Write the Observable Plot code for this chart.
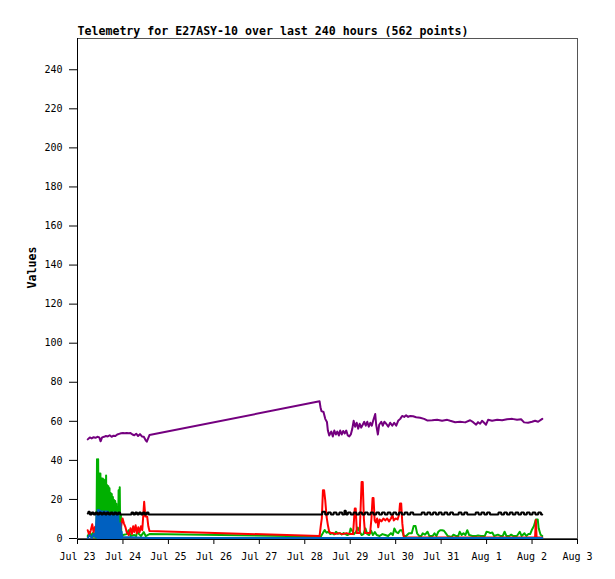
<!DOCTYPE html>
<html><head><meta charset="utf-8">
<script src="https://cdn.jsdelivr.net/npm/d3@7"></script>
<script src="https://cdn.jsdelivr.net/npm/@observablehq/plot@0.6"></script>
<style>body{margin:0;background:#fff} svg{display:block}</style>
</head><body><div id="chart"></div>
<script>
const title = "Telemetry for E27ASY-10 over last 240 hours (562 points)";
const yLabel = "Values";
const xTickLabels = ["Jul 23","Jul 24","Jul 25","Jul 26","Jul 27","Jul 28","Jul 29","Jul 30","Jul 31","Aug 1","Aug 2","Aug 3"];
const yTicks = [0,20,40,60,80,100,120,140,160,180,200,220,240];

// [hours since Jul 23 00:00, value]
const purple = [
[5.4,50.5],[6.5,51.5],[7.5,51],[8.5,51.6],[9.5,51.3],[10.5,51.8],[11.5,51.5],[12.2,49.5],[13,51.5],[14,51.8],[15,52.2],[16,52],[17,52.6],[18,51.8],[19,52.4],[20,52.2],[21,53],[22,53.3],[23,53.6],[24,53.7],[25,53.6],[26,53.8],[27,53.6],[28,53.7],[29,53],[30,52.6],[31,53.4],[32,52.2],[33,53.2],[34,52],[35,51.8],[36,50],[36.6,49.3],[38,52.7],
[127.8,70],[128.3,67],[128.8,65],[129.9,64.5],[130.8,61],[131.7,59.4],[132.2,55],[132.9,52.5],[134,54.5],[134.8,52],[135.6,55],[136.4,53],[137.2,54.5],[138,52.5],[138.7,55],[139.5,53],[140.3,54.8],[141.1,53.5],[141.9,55],[142.7,52.5],[143.5,52],[144.3,53],[145.1,56],[145.8,60],[146.6,57],[147.4,59],[148.2,56],[149,58.5],[149.8,56.5],[150.6,58],[151.4,59.5],[152.2,57.5],[153,59.5],[153.8,57],[154.6,59],[155.4,57.5],[156.1,60],[157.2,63.5],[157.7,58],[158.6,53],[159.3,58],[160.4,59.5],[161.2,57.5],[162,59.5],[163,58.5],[164.1,57],[165.1,59],[166.2,57.5],[167.2,59],[168.3,57.5],[169.3,60],[170.4,61],[171.4,62.5],[172.5,62],[173.5,62.8],[174.6,62],[175.7,62.5],[177.2,62.3],[178.8,61.8],[180.9,61.6],[183,61],[184.6,60.2],[187.3,60.3],[189.9,60.5],[192.5,60],[195.2,60.5],[196.8,60],[199.4,59.3],[202,59.5],[204.7,59.2],[207.3,60.3],[208.9,59.3],[210.5,58],[211.5,59.3],[212.6,58.5],[213.6,60],[214.7,59],[215.7,58],[216.8,60.5],[218.9,60],[221.6,60.5],[224.2,60.3],[226.8,60.8],[229.5,61],[232.1,60.5],[234.2,60.8],[235.8,59.2],[237.9,59],[240,59.5],[241.6,60],[243.2,59.5],[245.4,61]
];

const black = [
[5.4,12.5],[6,13.5],[7,12],[8,13],[9,12],[10,13],[11,12],[12,13],[13,12],[14,13],[15,12],[16,13],[17,12],[18,13],[19,12],[20,13],[21,12],[22,13],[23,12],[24,12],[25,12],[26,12],[27,12],[28,12],[29,13],[30,12],[31,13],[32,12],[33,13],[34,12],[35,13],[36,12],[37,13],[38,12],
[128.5,12],[130,13.4],[131.5,12],[133,13],[134.5,12],[136,13],[137.5,12],[139,13],[140.5,12],[141.4,14],[142,12],[143.5,13],[145,12],[146.5,13],[148,12],[149.5,13],[151,12],[152.5,13],[154,12],[155.5,13],[157,12],[158.5,13],[160,12],[161.5,13],[163,12],[164.5,13],[166,12],[167.5,13],[169,12],[170.5,13],[172,12],[173.5,13],[175,12],[176.5,13],[178,12],[179.5,12],[181,12],[182.5,13],[184,12],[185.5,13],[187,12],[188.5,13],[190,12],[191.5,13],[193,12],[194.5,13],[196,12],[197.5,13],[199,12],[200.5,12],[202,13],[203.5,12],[205,13],[206.5,12],[208,12],[209.5,12],[211,13],[212.5,12],[214,13],[215.5,12],[217,13],[218.5,12],[220,12],[221.5,12],[223,13],[224.5,12],[226,13],[227.5,12],[229,13],[230.5,12],[232,13],[233.5,12],[235,13],[236.5,12],[238,13],[239.5,12],[241,13],[242.5,12],[244,13],[245.4,12]
];

const green = [
[5.4,1],[6.5,3],[7.3,0.5],[8,2.5],[8.7,0.5],[9.5,3],[10,0],
[10.3,40.3],[10.6,0],[10.9,40.3],[11.2,0],[11.5,33],[11.8,0],[12.1,33],[12.4,0],[12.7,30.5],[13,0],[13.3,30.5],[13.6,0],[13.9,30],[14.2,0],[14.5,29.5],[14.8,0],[15.1,32],[15.4,0],[15.7,27],[16,0],[16.3,26.5],[16.6,0],[16.9,25.5],[17.2,0],[17.5,23],[17.8,0],[18.1,22.5],[18.4,0],[18.7,21],[19,0],[19.3,19.5],[19.6,0],[19.9,19],[20.2,0],[20.5,17.5],[20.8,0],[21.1,16],[21.4,0],[21.7,24.5],[22,0],[22.3,26],[22.6,0],[22.9,12],[23.2,0],
[24,1.5],[26,2],[27,4],[28,1],[30,1.5],[31,1],[31.5,3.5],[32.5,2],[33.5,1],[35,3],[36,1],[38,2],
[128.5,0.8],[129.5,2.4],[130.5,4.1],[131.5,2.7],[132.5,3.2],[133.5,2],[134.5,2.5],[135.5,1.8],[136.5,3.2],[137.5,2.2],[138.5,2.5],[139.5,1.8],[140.5,2.5],[141.5,2],[142.5,1.5],[143.5,2],[144.2,4.9],[145,3.7],[146,2],[147,3],[148,5.3],[149,3.2],[150,1.5],[151,2],[152,4.9],[153,2],[154,1.5],[155,3.7],[156,1.5],[157,3],[158,1.5],[159.5,1],[161,2],[162.5,1.5],[164,1],[165.5,2.5],[166.5,1.5],[167.3,4.9],[168.3,3],[169.3,2.5],[170.3,4],[171.3,4],[172.3,1],[173.5,1],[175,2.4],[176.5,2.4],[177.5,6.1],[178.5,6.1],[179.3,2.4],[180.5,1],[181.5,1],[182.3,2.4],[183.5,1.7],[184.8,3.2],[185.8,1],[187.5,1],[188.5,2.4],[189.5,1],[190.5,3.2],[191.5,4],[192.5,4],[193.5,3.7],[194.5,2.4],[195.5,1],[197.5,0.5],[198.5,1.7],[200,1],[201,1],[201.8,3.2],[202.8,1.5],[203.8,2.4],[204.8,1.5],[205.8,4],[206.8,1.5],[208.5,1],[210.5,1],[211.5,1.3],[213,1],[215,1],[216,3.2],[217,3],[218,2.5],[219,2.8],[220,1],[222,1.7],[223.5,1],[224.5,1],[225.5,3.2],[226.5,1],[228,1],[229,1.7],[230,1],[232,1],[233.5,3.2],[234.5,1],[236,2.4],[237,1],[238,2],[239,2],[240,4.4],[241,6.1],[242,9.5],[243,9.5],[243.5,5],[244.5,1.7],[245.4,1]
];

const red = [
[5.4,4],[6.2,1.5],[7,4],[7.8,7],[8.5,3],[9.3,5.8],[10,2],[11,4],[12,1],[13,3],[14,2],[16,4],[18,2],[20,3],[22,1],
[23,6],[23.8,10],[24.5,7.5],[25.3,5.6],[26,3],[27,1.5],[28,5],[28.7,2],[29.4,6],[30,3],[30.7,6.5],[31.4,2.5],[32.1,5.5],[32.8,3],[33.5,6],[34.2,4],[35.2,18.5],[35.8,11],[36.8,11],[37.4,6],[38,3.6],
[127.8,1],[128.5,6.6],[129,10],[129.6,24.5],[130.2,24.5],[130.8,19.4],[131.5,10.9],[132.2,6.6],[132.9,3.2],[134,2.5],[135,2.5],[136,2],[138,2.5],[140,2],[142,2.5],[144,2],[145.5,2],[146.4,15.1],[146.9,15.1],[147.5,2.5],[149,2.5],[150,28.7],[150.6,28.7],[151.2,10],[151.8,2.5],[153,2.5],[154.5,2.5],[155.2,10],[155.8,20.5],[156.3,20.5],[156.9,9],[157.5,8],[158.2,10],[158.8,5.5],[159.5,9.5],[160.5,8.5],[161.5,10],[162.5,9],[163.5,10],[164.5,8.5],[165.5,10],[166.3,11.7],[167,9],[168,10],[169,9.5],[169.8,12],[170.3,17.7],[170.9,17.7],[171.5,7.6],[172.2,1],[172.8,0.3],
[241.6,0.3],[242,9.2],[242.4,0.3],[245.4,0.3]
];

const blue = [
[5.4,0],[6.5,1.5],[7.5,0],[8.5,2],[9.5,0.5],
[10.1,12.5],[10.4,0],[10.7,14.3],[11,0],[11.3,14.3],[11.6,0],[11.9,14],[12.2,0],[12.5,13.6],[12.8,0],[13.1,13.6],[13.4,0],[13.7,13.6],[14,0],[14.3,13.5],[14.6,0],[14.9,13.6],[15.2,0],[15.5,13.6],[15.8,0],[16.1,13.5],[16.4,0],[16.7,12.8],[17,0],[17.3,12.8],[17.6,0],[17.9,12.5],[18.2,0],[18.5,9],[18.8,0],[19.1,13],[19.4,0],[19.7,8],[20,0],[20.3,13],[20.6,0],[20.9,12.8],[21.2,0],[21.5,12.5],[21.8,0],[22.1,7.6],[22.4,0],[22.7,7.6],[23,0],[23.3,3.2],[23.6,0],
[24,0.5],[38,0],[128.5,0],[245.4,0]
];

const colors = {green:"#00b000", red:"#ff0000", blue:"#0060c0", black:"#000000", purple:"#74007f"};

const toRows = (pairs) => pairs.map(([h, v]) => ({h, v}));
const xTicks = xTickLabels.map((_, i) => i * 24);
const lineOpts = (c, extra = {}) => ({x: "h", y: "v", stroke: c, strokeWidth: 2, dy: -0.5, ...extra});

const chart = Plot.plot({
  width: 615, height: 579,
  marginLeft: 77, marginRight: 38, marginTop: 38, marginBottom: 41,
  style: {fontFamily: "'DejaVu Sans Mono', monospace", fontSize: "10px", background: "#fff", color: "#000"},
  x: {domain: [0, 264], ticks: xTicks, tickFormat: (d) => xTickLabels[Math.round(d / 24)], tickSize: 6, tickPadding: 8, label: null},
  y: {domain: [0, 256], ticks: yTicks, tickSize: 8, tickPadding: 7, label: null},
  marks: [
    Plot.frame({stroke: "#555"}),
    Plot.line(toRows(green), lineOpts(colors.green)),
    Plot.line(toRows(red), lineOpts(colors.red)),
    Plot.line(toRows(blue), lineOpts(colors.blue)),
    Plot.line(toRows(black), lineOpts(colors.black, {curve: "step", strokeLinejoin: "miter"})),
    Plot.line(toRows(purple), lineOpts(colors.purple)),
    Plot.ruleX([0], {stroke: "#000"}),
    Plot.ruleY([0], {stroke: "#000", dy: 1}),
    Plot.text([title], {frameAnchor: "top-left", textAnchor: "start", lineAnchor: "bottom", dy: -4, fontWeight: "bold", fontSize: 11.6}),
    Plot.text([yLabel], {frameAnchor: "left", rotate: -90, dx: -45, fontWeight: "bold", fontSize: 11.6})
  ]
});
document.getElementById("chart").appendChild(chart);
</script>
</body></html>
